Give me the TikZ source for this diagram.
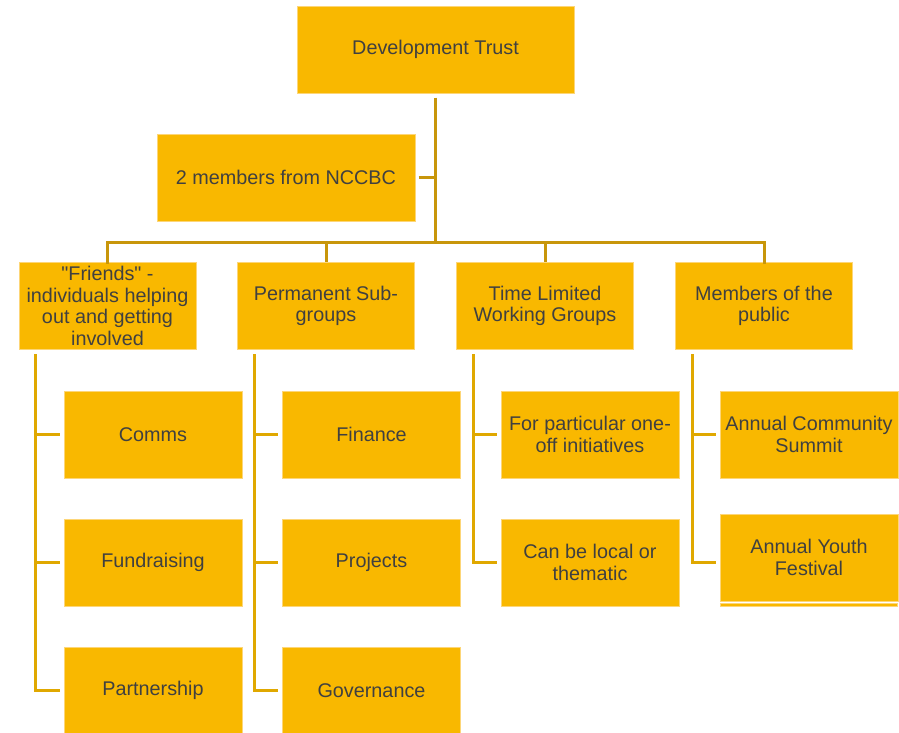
\documentclass[tikz,border=0pt]{standalone}
\usepackage{fontspec}
\setmainfont{Liberation Sans}[Ligatures=TeXOff]
\definecolor{boxfill}{RGB}{249,184,0}
\definecolor{boxedge}{RGB}{253,214,120}
\definecolor{trunkcol}{RGB}{200,150,10}
\definecolor{subcol}{RGB}{224,168,0}
\definecolor{textgray}{RGB}{64,64,64}
\begin{document}
\begin{tikzpicture}[x=1pt,y=-1pt,
  box/.style={draw=boxedge, line width=1pt, fill=boxfill, text=textgray, align=center,
    inner sep=0pt, minimum height=87pt, font=\fontsize{19.8}{21.6}\selectfont},
  lvltwo/.style={box, minimum width=177pt},
  lvlthree/.style={box, minimum width=178pt},
  trunkline/.style={draw=trunkcol, line width=3pt},
  subline/.style={draw=subcol, line width=3pt}]
\useasboundingbox (0,0) rectangle (899,732);
\fill[white] (0,0) rectangle (899,732);
% top levels
\node[box, minimum width=277pt] (dt) at (435.5,49.5) {Development Trust};
\node[box, minimum width=258pt] (nccbc) at (286,177.5) {2 members from NCCBC};
% level 2
\node[lvltwo] (friends) at (107.5,306) {"Friends" -\\individuals helping\\out and getting\\involved};
\node[lvltwo] (perm) at (326,306) {Permanent Sub-\\groups};
\node[lvltwo] (time) at (545,306) {Time Limited\\Working Groups};
\node[lvltwo] (members) at (764,306) {Members of the\\public};
% level 3
\node[lvlthree] (comms) at (153,434.5) {Comms};
\node[lvlthree] (fund) at (153,562.5) {Fundraising};
\node[lvlthree] (partner) at (153,690.5) {Partnership};
\node[lvlthree] (finance) at (371.5,434.5) {Finance};
\node[lvlthree] (projects) at (371.5,562.5) {Projects};
\node[lvlthree] (gov) at (371.5,690.5) {Governance};
\node[lvlthree] (oneoff) at (590,434.5) {For particular one-\\off initiatives};
\node[lvlthree] (local) at (590,562.5) {Can be local or\\thematic};
\node[lvlthree] (summit) at (809,434.5) {Annual Community\\Summit};
\node[lvlthree] (youth) at (809,557.5) {Annual Youth\\Festival};
\fill[boxfill, draw=boxedge, line width=0.6pt] (720.5,603.6) rectangle (897.5,606.4);
% coordinates
\coordinate (bus) at (435,242);
\coordinate (c1) at (35,0);
\coordinate (c2) at (254,0);
\coordinate (c3) at (473,0);
\coordinate (c4) at (692,0);
\coordinate (f1) at ([yshift=-4pt]friends.south);
\coordinate (f2) at ([yshift=-4pt]perm.south);
\coordinate (f3) at ([yshift=-4pt]time.south);
\coordinate (f4) at ([yshift=-4pt]members.south);
\coordinate (yf) at (720,562);
% trunk
\draw[trunkline] ([yshift=-4pt]dt.south) -- (dt.south |- bus);
\draw[trunkline] ([xshift=3pt]nccbc.east) -- (nccbc.east -| dt.south);
\draw[trunkline] (friends.north |- bus) -- (members.north |- bus);
\draw[trunkline, line cap=rect] (friends.north |- bus) -- (friends.north);
\draw[trunkline] (perm.north |- bus) -- (perm.north);
\draw[trunkline] (time.north |- bus) -- (time.north);
\draw[trunkline, line cap=rect] (members.north |- bus) -- (members.north);
% level 3 connectors
\draw[subline] (c1 |- f1) -- (c1 |- partner.west) -- ([xshift=-4pt]partner.west);
\draw[subline] (c1 |- comms.west) -- ([xshift=-4pt]comms.west);
\draw[subline] (c1 |- fund.west) -- ([xshift=-4pt]fund.west);
\draw[subline] (c2 |- f2) -- (c2 |- gov.west) -- ([xshift=-4pt]gov.west);
\draw[subline] (c2 |- finance.west) -- ([xshift=-4pt]finance.west);
\draw[subline] (c2 |- projects.west) -- ([xshift=-4pt]projects.west);
\draw[subline] (c3 |- f3) -- (c3 |- local.west) -- ([xshift=-4pt]local.west);
\draw[subline] (c3 |- oneoff.west) -- ([xshift=-4pt]oneoff.west);
\draw[subline] (c4 |- f4) -- (c4 |- yf) -- ([xshift=-4pt]yf);
\draw[subline] (c4 |- summit.west) -- ([xshift=-4pt]summit.west);
\end{tikzpicture}
\end{document}
